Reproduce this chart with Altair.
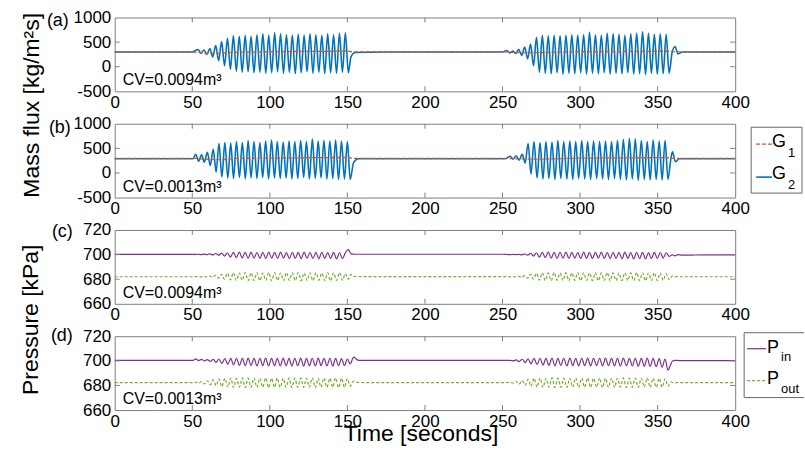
import altair as alt
import pandas as pd

FONT = "Liberation Sans"
W, H, S = 622, 74, 32.5
TOPS = [16, 16 + (H + S), 16 + 2 * (H + S), 16 + 3 * (H + S)]
TICK = "#808080"
BLUE, ORANGE, PURPLE, GREEN = "#0072BD", "#D95319", "#7E2F8E", "#77AC30"

# ---------------- axis ticks ----------------
X_TICKS = [0, 50, 100, 150, 200, 250, 300, 350, 400]
X_INNER = [50, 100, 150, 200, 250, 300, 350]
G_TICKS = [-500, 0, 500, 1000]
G_INNER = [0, 500]
P_TICKS = [660, 680, 700, 720]
P_INNER = [680, 700]

# ---------------- extremum times of the oscillation bursts ----------------
T_A1 = [53.7, 55.6, 57.5, 59.4, 61.3, 63.2, 65.1, 67.0, 68.9, 70.8,
        72.7, 74.6, 76.5, 78.4, 80.3, 82.2, 84.1, 86.0, 87.9, 89.8,
        91.7, 93.6, 95.5, 97.4, 99.3, 101.2, 103.1, 105.0, 106.9, 108.8,
        110.7, 112.6, 114.5, 116.4, 118.3, 120.2, 122.1, 124.0, 125.9, 127.8,
        129.7, 131.6, 133.5, 135.4, 137.3, 139.2, 141.1, 143.0, 144.9, 146.8,
        148.7, 150.6]
T_A2 = [252.9, 254.8, 256.7, 258.6, 260.5, 262.4, 264.3, 266.2, 268.1, 270.0,
        271.9, 273.8, 275.7, 277.6, 279.5, 281.4, 283.3, 285.2, 287.1, 289.0,
        290.9, 292.8, 294.7, 296.6, 298.5, 300.4, 302.3, 304.2, 306.1, 308.0,
        309.9, 311.8, 313.7, 315.6, 317.5, 319.4, 321.3, 323.2, 325.1, 327.0,
        328.9, 330.8, 332.7, 334.6, 336.5, 338.4, 340.3, 342.2, 344.1, 346.0,
        347.9, 349.8, 351.7, 353.6, 355.5, 357.4]
T_B1 = [52.2, 54.1, 56.0, 57.8, 59.7, 61.6, 63.5, 65.4, 67.2, 69.1,
        71.0, 72.9, 74.8, 76.6, 78.5, 80.4, 82.3, 84.2, 86.0, 87.9,
        89.8, 91.7, 93.6, 95.4, 97.3, 99.2, 101.1, 103.0, 104.8, 106.7,
        108.6, 110.5, 112.4, 114.2, 116.1, 118.0, 119.9, 121.8, 123.6, 125.5,
        127.4, 129.3, 131.2, 133.0, 134.9, 136.8, 138.7, 140.6, 142.4, 144.3,
        146.2, 148.1, 150.0, 151.8]
T_B2 = [255.0, 256.9, 258.8, 260.7, 262.7, 264.6, 266.5, 268.4, 270.3, 272.3,
        274.2, 276.1, 278.0, 279.9, 281.9, 283.8, 285.7, 287.6, 289.5, 291.5,
        293.4, 295.3, 297.2, 299.1, 301.1, 303.0, 304.9, 306.8, 308.7, 310.7,
        312.6, 314.5, 316.4, 318.3, 320.3, 322.2, 324.1, 326.0, 327.9, 329.9,
        331.8, 333.7, 335.6, 337.5, 339.5, 341.4, 343.3, 345.2, 347.1, 349.1,
        351.0, 352.9, 354.8, 356.7]

# baseline / transition times
TA_LEAD, TA_MID, TA_END = [0, 25, 50], [175, 200, 250], [380, 400]
TA1_TAIL, TA2_TAIL = [152.3, 155.0], [359.4, 361.2, 363.2, 366.0]
TB_LEAD, TB_MID, TB_END = [0, 25, 50.5], [175, 200, 252], [380, 400]
TB1_TAIL, TB2_TAIL = [154.0, 157.0], [358.6, 359.6, 361.5, 364.0]

# ---------------- (a) G2, CV = 0.0094 ----------------
G2_A1 = [350, 270, 340, 250, 370, 200, 430, 120, 510, 20,
         580, -50, 630, -90, 620, -110, 640, -100, 620, -120,
         650, -110, 670, -130, 640, -120, 690, -100, 670, -130,
         650, -110, 640, -140, 660, -120, 640, -100, 670, -130,
         650, -110, 640, -140, 670, -120, 650, -130, 680, -110,
         690, -120]
G2_A1_TAIL = [200, 290]
G2_A2 = [330, 280, 320, 270, 350, 230, 400, 160, 460, 20,
         600, -110, 640, -130, 630, -140, 640, -120, 630, -150,
         640, -130, 650, -140, 640, -120, 650, -150, 700, -130,
         650, -140, 640, -120, 680, -150, 670, -130, 660, -140,
         640, -120, 670, -150, 680, -140, 710, -160, 680, -130,
         660, -150, 670, -140, 660, -130]
G2_A2_TAIL = [300, 410, 260, 300]
G2_A_BASE = 300
G1_A_T = [0, 50, 55, 65, 75, 100, 140, 150, 153, 160, 250, 260, 270, 290, 330, 358, 362, 400]
G1_A_V = [300, 300, 285, 270, 290, 305, 315, 320, 300, 300, 300, 290, 285, 300, 310, 315, 300, 300]

# ---------------- (b) G2, CV = 0.0013 ----------------
G2_B1 = [380, 240, 370, 220, 420, 150, 480, 20, 600, -80,
         620, -100, 610, -110, 640, -90, 620, -120, 660, -100,
         640, -110, 620, -90, 650, -120, 670, -100, 640, -110,
         630, -100, 650, -120, 640, -110, 660, -90, 640, -120,
         690, -110, 650, -100, 660, -120, 650, -110, 670, -130,
         650, -120, 640, -130]
G2_B1_TAIL = [210, 290]
G2_B2 = [340, 280, 350, 260, 380, 200, 600, -20, 640, -100,
         620, -120, 640, -110, 630, -130, 660, -110, 640, -120,
         650, -130, 640, -110, 660, -120, 640, -130, 650, -110,
         640, -120, 650, -130, 640, -110, 660, -130, 680, -140,
         700, -120, 690, -150, 660, -130, 640, -140, 670, -130,
         650, -140, 660, -130]
G2_B2_TAIL = [300, 430, 230, 290]
G2_B_BASE = 290
G1_B_T = [0, 52, 58, 66, 80, 110, 150, 154, 252, 262, 270, 300, 356, 360, 400]
G1_B_V = [295, 295, 280, 270, 295, 305, 315, 295, 295, 285, 280, 300, 310, 295, 295]

# ---------------- (c) pressures, CV = 0.0094 ----------------
PIN_C1 = [700.3, 700.0, 700.4, 700.0, 700.6, 699.8, 700.9, 699.4, 701.2, 698.8,
          701.5, 698.0, 701.8, 697.5, 702.0, 697.3, 701.8, 697.0, 702.0, 697.2,
          701.7, 697.0, 701.9, 696.8, 702.0, 697.1, 701.8, 696.9, 702.0, 697.2,
          701.7, 696.8, 701.9, 697.0, 701.8, 696.7, 702.0, 697.1, 701.7, 696.9,
          701.8, 696.6, 701.9, 697.0, 701.6, 696.8, 701.8, 696.5, 701.7, 696.7,
          701.5, 704.0]
PIN_C1_TAIL = [700.8, 700.3]
PIN_C2 = [700.1, 699.9, 700.2, 699.9, 700.2, 699.8, 700.5, 699.5, 701.0, 698.8,
          701.5, 698.0, 701.8, 697.5, 702.0, 697.2, 701.8, 697.0, 701.9, 697.2,
          702.0, 696.9, 701.8, 697.1, 701.7, 696.8, 702.0, 697.0, 701.9, 696.7,
          701.8, 697.1, 702.0, 696.9, 701.7, 696.8, 701.9, 697.0, 701.8, 696.6,
          702.0, 696.9, 701.7, 696.5, 701.9, 696.8, 701.8, 696.4, 701.6, 696.8,
          701.8, 697.0, 701.7, 697.2, 701.5, 698.5]
PIN_C2_TAIL = [699.8, 699.0, 699.9, 699.6]
PIN_C_BASE = [700.2, 700.3, 699.7]
POUT_C1 = [682.2, 681.9, 682.3, 681.7, 682.6, 681.5, 683.2, 680.8, 684.0, 680.0,
           684.8, 679.4, 685.2, 679.0, 685.0, 679.2, 685.4, 678.8, 685.1, 679.0,
           685.3, 678.9, 685.0, 679.1, 685.4, 678.7, 685.2, 679.0, 685.0, 678.8,
           685.3, 679.1, 685.1, 678.9, 685.4, 678.7, 685.0, 679.0, 685.2, 678.8,
           685.3, 679.1, 685.0, 678.9, 685.2, 678.7, 685.1, 679.0, 685.3, 679.2,
           684.5, 680.0]
POUT_C1_TAIL = [684.0, 682.2]
POUT_C2 = [682.1, 681.9, 682.2, 681.8, 682.4, 681.4, 683.0, 680.8, 684.0, 680.0,
           684.8, 679.2, 685.3, 679.0, 685.1, 678.8, 685.4, 679.1, 685.0, 678.9,
           685.3, 678.7, 685.1, 679.0, 685.4, 678.8, 685.2, 679.1, 685.0, 678.9,
           685.3, 678.8, 685.1, 679.0, 685.4, 678.7, 685.2, 678.9, 685.0, 678.8,
           685.3, 679.0, 685.1, 678.8, 685.4, 678.9, 685.2, 678.7, 685.0, 679.0,
           685.2, 678.9, 685.0, 679.2, 684.6, 679.6]
POUT_C2_TAIL = [682.5, 682.0, 682.3, 682.0]
POUT_C_BASE = [682.0, 682.1, 682.0]

# ---------------- (d) pressures, CV = 0.0013 ----------------
PIN_D1 = [701.6, 700.3, 701.2, 700.0, 701.0, 699.5, 701.2, 698.8, 701.5, 698.0,
          701.8, 697.2, 702.0, 696.6, 702.1, 696.3, 702.0, 696.0, 702.2, 696.2,
          702.0, 695.9, 702.1, 696.1, 702.2, 695.8, 702.0, 696.0, 702.1, 695.9,
          702.2, 696.1, 702.0, 695.8, 702.1, 696.0, 702.2, 695.7, 702.0, 696.0,
          702.1, 695.8, 702.2, 696.1, 702.0, 695.9, 702.1, 695.7, 702.0, 696.0,
          701.8, 696.2, 701.5, 697.5]
PIN_D1_TAIL = [703.0, 700.4]
PIN_D2 = [700.4, 700.0, 700.8, 699.4, 701.3, 698.6, 701.7, 697.6, 702.0, 697.0,
          702.1, 696.5, 702.0, 696.3, 702.2, 696.0, 702.0, 696.2, 702.1, 695.9,
          702.2, 696.1, 702.0, 695.8, 702.1, 696.0, 702.2, 695.9, 702.0, 696.1,
          702.1, 695.8, 702.2, 696.0, 702.0, 695.9, 702.1, 695.7, 702.2, 696.0,
          702.0, 695.8, 702.1, 695.6, 702.0, 695.5, 702.2, 695.4, 702.0, 695.2,
          701.8, 694.8, 701.5, 692.5]
PIN_D2_TAIL = [697.5, 699.8, 700.4, 700.2]
PIN_D_BASE = [700.3, 700.3, 700.2]
POUT_D1 = [682.6, 681.8, 683.2, 681.2, 683.8, 680.5, 684.5, 679.8, 685.3, 679.0,
           685.8, 678.6, 686.0, 678.4, 685.8, 678.6, 686.1, 678.3, 685.9, 678.5,
           686.0, 678.4, 685.8, 678.6, 686.1, 678.3, 685.9, 678.5, 686.0, 678.4,
           685.8, 678.6, 686.1, 678.3, 685.9, 678.5, 686.0, 678.4, 685.8, 678.6,
           686.1, 678.3, 685.9, 678.5, 686.0, 678.4, 685.8, 678.6, 686.1, 678.2,
           685.9, 678.4, 685.6, 679.5]
POUT_D1_TAIL = [683.5, 682.4]
POUT_D2 = [682.5, 681.8, 683.2, 681.0, 684.0, 680.2, 685.0, 679.2, 685.8, 678.6,
           686.0, 678.4, 685.8, 678.6, 686.1, 678.3, 685.9, 678.5, 686.0, 678.4,
           685.8, 678.6, 686.1, 678.3, 685.9, 678.5, 686.0, 678.4, 685.8, 678.6,
           686.1, 678.3, 685.9, 678.5, 686.0, 678.4, 685.8, 678.6, 686.1, 678.3,
           685.9, 678.5, 686.0, 678.4, 685.8, 678.6, 686.1, 678.3, 685.9, 678.5,
           685.8, 678.6, 685.4, 679.4]
POUT_D2_TAIL = [682.8, 682.4, 682.2, 682.3]
POUT_D_BASE = [682.3, 682.3, 682.3]


# ---------------- helpers ----------------
def build(times_vals):
    rows = []
    for ts, vs in times_vals:
        for t, v in zip(ts, vs):
            rows.append({"t": t, "v": v})
    return pd.DataFrame(rows)


def signal(lead, b1, b1v, tail1, tail1v, mid, b2, b2v, tail2, tail2v, end, base):
    b0, bm, be = base
    return build([
        (lead, [b0] * len(lead)), (b1, b1v), (tail1, tail1v),
        (mid, [bm] * len(mid)), (b2, b2v), (tail2, tail2v), (end, [be] * len(end)),
    ])


DUMMY = pd.DataFrame({"d": [0]})


def txt(x, y, s, size, align="left", angle=None):
    kw = dict(text=s, fontSize=size, font=FONT, align=align, baseline="alphabetic", color="black")
    if angle is not None:
        kw["angle"] = angle
    return alt.Chart(DUMMY).mark_text(**kw).encode(x=alt.value(x), y=alt.value(y))


def hline(x1, x2, y, color, width=1.0, dash=None):
    kw = dict(color=color, strokeWidth=width)
    if dash:
        kw["strokeDash"] = dash
    return alt.Chart(DUMMY).mark_rule(**kw).encode(x=alt.value(x1), x2=alt.value(x2), y=alt.value(y))


def vline(x, y1, y2, color, width=1.0):
    return alt.Chart(DUMMY).mark_rule(color=color, strokeWidth=width).encode(
        x=alt.value(x), y=alt.value(y1), y2=alt.value(y2))


def box(x1, x2, y1, y2, fill="white", stroke=None, opacity=1.0):
    kw = dict(fill=fill, opacity=opacity)
    if stroke:
        kw["stroke"] = stroke
        kw["strokeWidth"] = 1
    return alt.Chart(DUMMY).mark_rect(**kw).encode(
        x=alt.value(x1), x2=alt.value(x2), y=alt.value(y1), y2=alt.value(y2))


def panel(lines, ydom, yvals, yinner, extras):
    xs = alt.Scale(domain=[0, 400], nice=False, zero=False)
    ys = alt.Scale(domain=ydom, nice=False, zero=False)
    xax = alt.Axis(values=X_TICKS, title=None, labelFlush=False, labelPadding=3,
                   labelExpr="'' + datum.value")
    yax = alt.Axis(values=yvals, title=None, labelFlush=False, labelPadding=4,
                   labelExpr="'' + datum.value")
    layers = []
    for df, color, dash, sw in lines:
        mk = dict(color=color, strokeWidth=sw, interpolate="monotone")
        if dash:
            mk["strokeDash"] = dash
        layers.append(alt.Chart(df).mark_line(**mk).encode(
            x=alt.X("t:Q", scale=xs, axis=xax), y=alt.Y("v:Q", scale=ys, axis=yax)))
    xt = pd.DataFrame({"t": X_INNER})
    yt = pd.DataFrame({"v": yinner})
    layers.append(alt.Chart(xt).mark_rule(color=TICK).encode(
        x=alt.X("t:Q", scale=xs, axis=xax), y=alt.value(0), y2=alt.value(5)))
    layers.append(alt.Chart(xt).mark_rule(color=TICK).encode(
        x=alt.X("t:Q", scale=xs, axis=xax), y=alt.value(H - 5), y2=alt.value(H)))
    layers.append(alt.Chart(yt).mark_rule(color=TICK).encode(
        y=alt.Y("v:Q", scale=ys, axis=yax), x=alt.value(0), x2=alt.value(5)))
    layers.append(alt.Chart(yt).mark_rule(color=TICK).encode(
        y=alt.Y("v:Q", scale=ys, axis=yax), x=alt.value(W - 5), x2=alt.value(W)))
    layers += extras
    return alt.layer(*layers).properties(width=W, height=H)


# ---------------- series ----------------
g2a = signal(TA_LEAD, T_A1, G2_A1, TA1_TAIL, G2_A1_TAIL, TA_MID, T_A2, G2_A2, TA2_TAIL, G2_A2_TAIL,
             TA_END, [G2_A_BASE] * 3)
g1a = build([(G1_A_T, G1_A_V)])
g2b = signal(TB_LEAD, T_B1, G2_B1, TB1_TAIL, G2_B1_TAIL, TB_MID, T_B2, G2_B2, TB2_TAIL, G2_B2_TAIL,
             TB_END, [G2_B_BASE] * 3)
g1b = build([(G1_B_T, G1_B_V)])
pinc = signal(TA_LEAD, T_A1, PIN_C1, TA1_TAIL, PIN_C1_TAIL, TA_MID, T_A2, PIN_C2, TA2_TAIL, PIN_C2_TAIL,
              TA_END, PIN_C_BASE)
poutc = signal(TA_LEAD, T_A1, POUT_C1, TA1_TAIL, POUT_C1_TAIL, TA_MID, T_A2, POUT_C2, TA2_TAIL, POUT_C2_TAIL,
               TA_END, POUT_C_BASE)
pind = signal(TB_LEAD, T_B1, PIN_D1, TB1_TAIL, PIN_D1_TAIL, TB_MID, T_B2, PIN_D2, TB2_TAIL, PIN_D2_TAIL,
              TB_END, PIN_D_BASE)
poutd = signal(TB_LEAD, T_B1, POUT_D1, TB1_TAIL, POUT_D1_TAIL, TB_MID, T_B2, POUT_D2, TB2_TAIL, POUT_D2_TAIL,
               TB_END, POUT_D_BASE)

tb, td = TOPS[1], TOPS[3]

# ---------------- panels ----------------
pa = panel(
    [(g2a, BLUE, None, 1.6), (g1a, ORANGE, [4, 2], 1.3)],
    [-500, 1000], G_TICKS, G_INNER,
    [
        box(-114, 691, -16, H, opacity=0.001),
        txt(-46, 9, "(a)", 18, align="right"),
        txt(8, 68, "CV=0.0094m³", 16),
        txt(-76, 88, "Mass flux [kg/m²s]", 23, align="center", angle=270),
    ],
)
pb = panel(
    [(g2b, BLUE, None, 1.6), (g1b, ORANGE, [4, 2], 1.3)],
    [-500, 1000], G_TICKS, G_INNER,
    [
        txt(-44, 132 - tb, "(b)", 18, align="right"),
        txt(8, 68, "CV=0.0013m³", 16),
        box(638, 689, 126 - tb, 192 - tb, stroke="#666666"),
        hline(643, 659, 143 - tb, ORANGE, 1.3, [4, 2]),
        txt(659, 146 - tb, "G", 18),
        txt(675, 156 - tb, "1", 13),
        hline(643, 659, 176 - tb, BLUE, 1.6),
        txt(659, 178 - tb, "G", 18),
        txt(675, 188 - tb, "2", 13),
    ],
)
pc = panel(
    [(pinc, PURPLE, None, 1.2), (poutc, GREEN, [3, 2], 1.2)],
    [660, 720], P_TICKS, P_INNER,
    [
        txt(-42, 7, "(c)", 18, align="right"),
        txt(8, 68, "CV=0.0094m³", 16),
        txt(-77, 90, "Pressure [kPa]", 23, align="center", angle=270),
    ],
)
pdd = panel(
    [(pind, PURPLE, None, 1.2), (poutd, GREEN, [3, 2], 1.2)],
    [660, 720], P_TICKS, P_INNER,
    [
        box(-114, 691, 0, 451 - td, opacity=0.001),
        txt(-42, 340 - td, "(d)", 18, align="right"),
        txt(8, 68, "CV=0.0013m³", 16),
        txt(307, 440.5 - td, "Time [seconds]", 23, align="center"),
        box(631, 691, 332 - td, 397 - td),
        hline(631, 691, 332 - td, "#666666"),
        hline(631, 691, 397 - td, "#666666"),
        vline(631, 332 - td, 397 - td, "#666666"),
        hline(634, 653, 348 - td, PURPLE, 1.2),
        txt(654, 352 - td, "P", 18),
        txt(668, 360 - td, "in", 13),
        hline(634, 653, 380 - td, GREEN, 1.2, [3, 2]),
        txt(654, 383 - td, "P", 18),
        txt(668, 392 - td, "out", 13),
    ],
)

chart = (
    alt.vconcat(pa, pb, pc, pdd, spacing=S, bounds="flush")
    .properties(padding=0, background="white")
    .configure_view(stroke=TICK, strokeWidth=1)
    .configure_axis(
        labelFont=FONT, labelFontSize=17, labelColor="black", ticks=False, tickSize=0,
        domain=False, grid=False,
    )
)
chart.save("out.html", embed_options={"renderer": "svg", "actions": False})
